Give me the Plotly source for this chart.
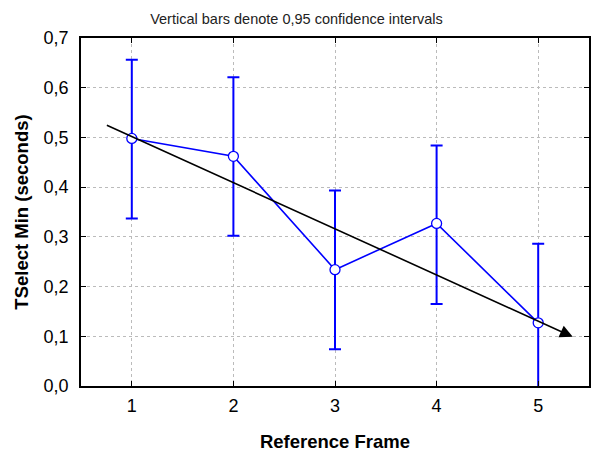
import plotly.graph_objects as go

frames = [1, 2, 3, 4, 5]
means = [0.498, 0.462, 0.234, 0.327, 0.127]
upper = [0.656, 0.621, 0.393, 0.484, 0.286]
lower = [0.337, 0.302, 0.074, 0.165, -0.032]
trend_start = (0.74, 0.526)
trend_end = (5.34, 0.099)

err_plus = [u - m for u, m in zip(upper, means)]
err_minus = [m - l for m, l in zip(means, lower)]

font_family = "Liberation Sans, Arial, sans-serif"

fig = go.Figure()
fig.add_trace(go.Scatter(
    x=frames, y=means, mode="lines+markers",
    line=dict(color="#0000ff", width=1.6),
    marker=dict(symbol="circle", size=10, color="white",
                line=dict(color="#0000ff", width=1.3)),
    error_y=dict(type="data", symmetric=False, array=err_plus,
                 arrayminus=err_minus, color="#0000ff",
                 thickness=2, width=6),
    showlegend=False,
))

fig.add_annotation(
    x=trend_end[0], y=trend_end[1], ax=trend_start[0], ay=trend_start[1],
    xref="x", yref="y", axref="x", ayref="y",
    showarrow=True, arrowhead=2, arrowsize=1.6, arrowwidth=1.6,
    arrowcolor="black", text="",
)

fig.update_layout(
    width=592, height=452,
    margin=dict(l=81, r=1, t=38, b=66),
    paper_bgcolor="white", plot_bgcolor="white",
    separators=",.",
    font=dict(family=font_family, color="black"),
    title=dict(text="Vertical bars denote 0,95 confidence intervals",
               x=296.5 / 592, xanchor="center", y=1 - 19 / 452, yanchor="middle",
               font=dict(size=14.5, family=font_family, color="#222")),
    xaxis=dict(range=[0.5, 5.5], tickvals=frames, ticks="inside",
               ticklen=5, tickcolor="black", mirror="ticks",
               showline=True, linecolor="black", linewidth=1.5,
               showgrid=True, gridcolor="#bbbbbb", griddash="dot", gridwidth=1,
               zeroline=False, tickfont=dict(size=18), ticklabelstandoff=3,
               title=dict(text="<b>Reference Frame</b>", font=dict(size=18.5),
                          standoff=22)),
    yaxis=dict(range=[0, 0.7], dtick=0.1, tickformat=".1f", ticks="inside",
               ticklen=5, tickcolor="black", mirror="ticks",
               showline=True, linecolor="black", linewidth=1.5,
               showgrid=True, gridcolor="#bbbbbb", griddash="dot", gridwidth=1,
               zeroline=False, tickfont=dict(size=18), ticklabelstandoff=7,
               title=dict(text="<b>TSelect Min (seconds)</b>", font=dict(size=18.5),
                          standoff=10)),
)

fig.write_html("out.html")
